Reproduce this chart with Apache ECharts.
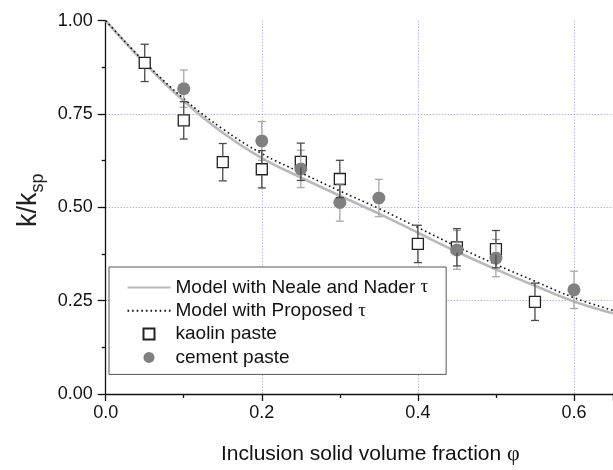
<!DOCTYPE html>
<html>
<head>
<meta charset="utf-8">
<script src="https://cdn.jsdelivr.net/npm/echarts@6/dist/echarts.min.js"></script>
<style>html,body{margin:0;padding:0;background:#fff}#c{width:613px;height:470px}</style>
</head>
<body>
<div id="c"></div>
<script>
// ---- data ----
const modelPhi      = [0, 0.05, 0.1, 0.15, 0.2, 0.25, 0.3, 0.35, 0.4, 0.45, 0.5, 0.55, 0.6, 0.65];
const nealeNaderK   = [1.0, 0.886, 0.785, 0.700, 0.632, 0.580, 0.531, 0.483, 0.432, 0.381, 0.334, 0.290, 0.248, 0.216];
const proposedK     = [1.0, 0.889, 0.791, 0.710, 0.644, 0.593, 0.544, 0.497, 0.446, 0.395, 0.347, 0.302, 0.258, 0.224];

const kaolinPhi = [0.05, 0.1, 0.15, 0.2, 0.25, 0.3, 0.4, 0.45, 0.5, 0.55];
const kaolinK   = [0.887, 0.733, 0.621, 0.602, 0.622, 0.576, 0.402, 0.393, 0.388, 0.247];
const kaolinErr = [0.05, 0.05, 0.05, 0.05, 0.05, 0.05, 0.05, 0.05, 0.05, 0.05];

const cementPhi = [0.1, 0.2, 0.25, 0.3, 0.35, 0.45, 0.5, 0.6];
const cementK   = [0.818, 0.678, 0.603, 0.513, 0.525, 0.386, 0.364, 0.279];
const cementErr = [0.05, 0.052, 0.05, 0.05, 0.05, 0.052, 0.05, 0.05];

const seriesNames = ['Model with Neale and Nader τ', 'Model with Proposed τ', 'kaolin paste', 'cement paste'];

// ---- build ----
const zip2 = (a, b) => a.map((v, i) => [v, b[i]]);
const zip3 = (a, b, c) => a.map((v, i) => [v, b[i], c[i]]);

function errRender(gap, color, cap) {
  return function (params, api) {
    const x = api.value(0), y = api.value(1), e = api.value(2);
    const t = api.coord([x, y + e]);
    const b = api.coord([x, y - e]);
    const c = api.coord([x, y]);
    const st = { stroke: color, lineWidth: 1.3 };
    return {
      type: 'group',
      children: [
        { type: 'line', shape: { x1: t[0] - cap, y1: t[1], x2: t[0] + cap, y2: t[1] }, style: st },
        { type: 'line', shape: { x1: t[0], y1: t[1], x2: t[0], y2: c[1] - gap }, style: st },
        { type: 'line', shape: { x1: b[0], y1: c[1] + gap, x2: b[0], y2: b[1] }, style: st },
        { type: 'line', shape: { x1: b[0] - cap, y1: b[1], x2: b[0] + cap, y2: b[1] }, style: st }
      ]
    };
  };
}

const FONT = '"Liberation Sans", Arial, sans-serif';
const SERIF = '"Liberation Serif", "Times New Roman", serif';
const squarePath = 'path://M0,0H10V10H0Z';
const hideSym = { opacity: 0, color: 'rgba(0,0,0,0)', borderWidth: 0 };

const chart = echarts.init(document.getElementById('c'), null, { renderer: 'canvas' });
chart.setOption({
  animation: false,
  backgroundColor: '#fff',
  textStyle: { fontFamily: FONT },
  grid: { left: 105.7, top: 20.7, bottom: 73.3, right: -9.5, containLabel: false },
  legend: {
    orient: 'vertical',
    left: 109, top: 267,
    padding: [10.5, 18, 7, 17.5],
    itemWidth: 43, itemHeight: 11, itemGap: 3.3,
    borderColor: '#555', borderWidth: 1, backgroundColor: '#fff',
    data: [
      { name: seriesNames[0], itemStyle: hideSym },
      { name: seriesNames[1], itemStyle: hideSym },
      { name: seriesNames[2], icon: squarePath },
      { name: seriesNames[3], icon: 'circle' }
    ],
    formatter: n => n.replace(/τ/g, '{s|τ}'),
    textStyle: {
      fontFamily: FONT, fontSize: 19, color: '#111', lineHeight: 20,
      rich: { s: { fontFamily: SERIF, fontSize: 19, color: '#111', lineHeight: 20 } }
    }
  },
  xAxis: {
    type: 'value', min: 0, max: 0.65, interval: 0.2,
    name: '{a|Inclusion solid volume fraction }{b|φ}',
    nameLocation: 'middle', nameGap: 49,
    nameTextStyle: {
      padding: [0, 0, 0, 22],
      rich: {
        a: { fontFamily: FONT, fontSize: 21, color: '#111' },
        b: { fontFamily: SERIF, fontSize: 22, color: '#111' }
      }
    },
    axisLine: { lineStyle: { color: '#111', width: 1.3 } },
    axisTick: { length: 7, lineStyle: { color: '#111', width: 1.3 } },
    minorTick: { show: true, splitNumber: 2, length: 4, lineStyle: { color: '#111', width: 1.3 } },
    axisLabel: { fontFamily: FONT, fontSize: 18, color: '#111', margin: 10, showMaxLabel: false,
                 formatter: v => v.toFixed(1) },
    splitLine: { show: true, showMinLine: false, showMaxLine: false,
                 lineStyle: { color: '#8f8ff0', type: [1, 2], width: 1 } }
  },
  yAxis: {
    type: 'value', min: 0, max: 1, interval: 0.25,
    name: '{a|k/k}{b|sp}',
    nameLocation: 'middle', nameGap: 58,
    nameTextStyle: {
      padding: [0, 0, 0, 14],
      rich: {
        a: { fontFamily: FONT, fontSize: 27, color: '#222', lineHeight: 36 },
        b: { fontFamily: FONT, fontSize: 18, color: '#222', lineHeight: 18, verticalAlign: 'bottom' }
      }
    },
    axisLine: { show: true, lineStyle: { color: '#111', width: 1.3 } },
    axisTick: { show: true, length: 8, lineStyle: { color: '#111', width: 1.3 } },
    minorTick: { show: true, splitNumber: 2, length: 4, lineStyle: { color: '#111', width: 1.3 } },
    axisLabel: { fontFamily: FONT, fontSize: 18, color: '#111', margin: 13,
                 formatter: v => v.toFixed(2) },
    splitLine: { show: true, showMinLine: false, showMaxLine: false,
                 lineStyle: { color: '#8f8ff0', type: [1, 2], width: 1 } }
  },
  series: [
    {
      name: seriesNames[0], type: 'line', data: zip2(modelPhi, nealeNaderK),
      smooth: 0.4, symbol: 'none', showSymbol: false, z: 2,
      lineStyle: { color: '#b9b9b9', width: 2.6 },
      itemStyle: { color: '#b9b9b9' }
    },
    {
      name: seriesNames[1], type: 'line', data: zip2(modelPhi, proposedK),
      smooth: 0.4, symbol: 'none', showSymbol: false, z: 3,
      lineStyle: { color: '#111', width: 1.6, type: [1.6, 3] },
      itemStyle: { color: '#111' }
    },
    {
      name: seriesNames[2], type: 'scatter', data: zip2(kaolinPhi, kaolinK),
      symbol: squarePath, symbolSize: 11, z: 4,
      itemStyle: { color: '#fff', borderColor: '#222', borderWidth: 1.3, opacity: 1 }
    },
    {
      name: seriesNames[3], type: 'scatter', data: zip2(cementPhi, cementK),
      symbol: 'circle', symbolSize: 13, z: 5,
      itemStyle: { color: '#808080', opacity: 1 }
    },
    {
      name: 'cement err', type: 'custom', data: zip3(cementPhi, cementK, cementErr),
      renderItem: errRender(6.5, '#a8a8a8', 4), z: 6, silent: true
    },
    {
      name: 'kaolin err', type: 'custom', data: zip3(kaolinPhi, kaolinK, kaolinErr),
      renderItem: errRender(5.5, '#4a4a4a', 4), z: 7, silent: true
    }
  ]
});
</script>
</body>
</html>
